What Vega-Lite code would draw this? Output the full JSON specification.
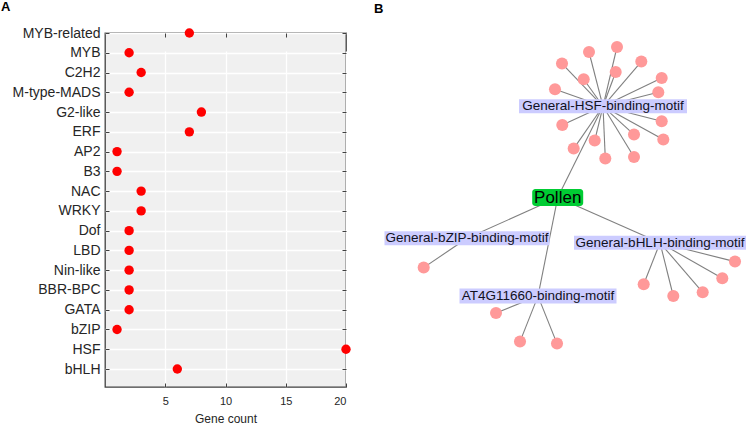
{
  "$schema": "https://vega.github.io/schema/vega-lite/v6.json",
  "padding": {"left": 0, "top": 0, "right": 0, "bottom": 0},
  "config": {"font": "Liberation Sans"},
  "datasets": {
    "tf": [
      {"family": "MYB-related", "count": 7},
      {"family": "MYB", "count": 2},
      {"family": "C2H2", "count": 3},
      {"family": "M-type-MADS", "count": 2},
      {"family": "G2-like", "count": 8},
      {"family": "ERF", "count": 7},
      {"family": "AP2", "count": 1},
      {"family": "B3", "count": 1},
      {"family": "NAC", "count": 3},
      {"family": "WRKY", "count": 3},
      {"family": "Dof", "count": 2},
      {"family": "LBD", "count": 2},
      {"family": "Nin-like", "count": 2},
      {"family": "BBR-BPC", "count": 2},
      {"family": "GATA", "count": 2},
      {"family": "bZIP", "count": 1},
      {"family": "HSF", "count": 20},
      {"family": "bHLH", "count": 6}
    ],
    "nodes": [
      {"id": "Pollen", "kind": "tissue", "label": "Pollen", "x": 556.7, "y": 197.3},
      {"id": "HSF", "kind": "motif", "label": "General-HSF-binding-motif", "x": 602, "y": 106},
      {"id": "bZIP", "kind": "motif", "label": "General-bZIP-binding-motif", "x": 466, "y": 238},
      {"id": "bHLH", "kind": "motif", "label": "General-bHLH-binding-motif", "x": 659, "y": 242.5},
      {"id": "AT4G", "kind": "motif", "label": "AT4G11660-binding-motif", "x": 537, "y": 295.8},
      {"id": "h1", "kind": "gene", "x": 616, "y": 46.7},
      {"id": "h2", "kind": "gene", "x": 588, "y": 51.7},
      {"id": "h3", "kind": "gene", "x": 561, "y": 63.3},
      {"id": "h4", "kind": "gene", "x": 640.3, "y": 61.3},
      {"id": "h5", "kind": "gene", "x": 614.7, "y": 71.7},
      {"id": "h6", "kind": "gene", "x": 582.7, "y": 79},
      {"id": "h7", "kind": "gene", "x": 660.7, "y": 77.7},
      {"id": "h8", "kind": "gene", "x": 554, "y": 89},
      {"id": "h9", "kind": "gene", "x": 657.3, "y": 92},
      {"id": "h10", "kind": "gene", "x": 561.3, "y": 124.7},
      {"id": "h11", "kind": "gene", "x": 660.7, "y": 121},
      {"id": "h12", "kind": "gene", "x": 633, "y": 134.3},
      {"id": "h13", "kind": "gene", "x": 593.7, "y": 140.3},
      {"id": "h14", "kind": "gene", "x": 662.3, "y": 139.3},
      {"id": "h15", "kind": "gene", "x": 572.7, "y": 148.3},
      {"id": "h16", "kind": "gene", "x": 604.3, "y": 158.3},
      {"id": "h17", "kind": "gene", "x": 633, "y": 156.7},
      {"id": "z1", "kind": "gene", "x": 422.7, "y": 267.3},
      {"id": "l1", "kind": "gene", "x": 734, "y": 261.3},
      {"id": "l2", "kind": "gene", "x": 721.3, "y": 278},
      {"id": "l3", "kind": "gene", "x": 701.7, "y": 292},
      {"id": "l4", "kind": "gene", "x": 672.3, "y": 295.7},
      {"id": "l5", "kind": "gene", "x": 642.7, "y": 284},
      {"id": "a1", "kind": "gene", "x": 495, "y": 312.7},
      {"id": "a2", "kind": "gene", "x": 519, "y": 341.3},
      {"id": "a3", "kind": "gene", "x": 556, "y": 343.3}
    ],
    "edges": [
      {"source": "Pollen", "target": "HSF"},
      {"source": "Pollen", "target": "bZIP"},
      {"source": "Pollen", "target": "bHLH"},
      {"source": "Pollen", "target": "AT4G"},
      {"source": "HSF", "target": "h1"},
      {"source": "HSF", "target": "h2"},
      {"source": "HSF", "target": "h3"},
      {"source": "HSF", "target": "h4"},
      {"source": "HSF", "target": "h5"},
      {"source": "HSF", "target": "h6"},
      {"source": "HSF", "target": "h7"},
      {"source": "HSF", "target": "h8"},
      {"source": "HSF", "target": "h9"},
      {"source": "HSF", "target": "h10"},
      {"source": "HSF", "target": "h11"},
      {"source": "HSF", "target": "h12"},
      {"source": "HSF", "target": "h13"},
      {"source": "HSF", "target": "h14"},
      {"source": "HSF", "target": "h15"},
      {"source": "HSF", "target": "h16"},
      {"source": "HSF", "target": "h17"},
      {"source": "bZIP", "target": "z1"},
      {"source": "bHLH", "target": "l1"},
      {"source": "bHLH", "target": "l2"},
      {"source": "bHLH", "target": "l3"},
      {"source": "bHLH", "target": "l4"},
      {"source": "bHLH", "target": "l5"},
      {"source": "AT4G", "target": "a1"},
      {"source": "AT4G", "target": "a2"},
      {"source": "AT4G", "target": "a3"}
    ]
  },
  "hconcat": [
    {
      "width": 241,
      "height": 354,
      "title": {"text": "A", "anchor": "start", "frame": "bounds", "fontSize": 13, "fontWeight": "bold", "offset": 12, "color": "#000000"},
      "view": {"fill": "#f0f0f0", "stroke": "#404040", "strokeWidth": 1.3},
      "data": {"name": "tf"},
      "layer": [
        {
          "mark": {"type": "circle", "size": 88, "color": "#ff0000", "opacity": 1},
          "encoding": {
            "x": {
              "field": "count", "type": "quantitative",
              "scale": {"domain": [0, 20], "nice": false, "zero": false},
              "axis": {
                "values": [5, 10, 15, 20], "title": "Gene count", "titleFontSize": 12, "titleFontWeight": "normal",
                "titleColor": "#262626", "titlePadding": 7, "labelFontSize": 11, "labelColor": "#262626",
                "labelPadding": 12, "tickSize": -4, "tickColor": "#404040", "domain": false,
                "grid": true, "gridColor": "#ffffff", "gridWidth": 1.3
              }
            },
            "y": {
              "field": "family", "type": "nominal", "sort": null,
              "scale": {"type": "point", "range": [0, 336], "padding": 0},
              "axis": {
                "title": null, "labelFontSize": 14, "labelColor": "#262626", "labelPadding": 9,
                "tickSize": -4, "tickColor": "#404040", "domain": false,
                "grid": true, "gridColor": "#ffffff", "gridWidth": 1.3,
                "minExtent": 104, "maxExtent": 104
              }
            }
          }
        },
        {
          "mark": {"type": "circle", "opacity": 0},
          "encoding": {
            "x": {
              "field": "count", "type": "quantitative",
              "axis": {"orient": "top", "values": [5, 10, 15], "labels": false, "title": null, "tickSize": -4, "tickColor": "#404040", "domain": false, "grid": false, "minExtent": 0, "maxExtent": 0}
            },
            "y": {
              "field": "family", "type": "nominal", "sort": null,
              "axis": {"orient": "right", "labels": false, "title": null, "tickSize": -4, "tickColor": "#404040", "domain": false, "grid": false, "minExtent": 0, "maxExtent": 0}
            }
          }
        }
      ],
      "resolve": {"axis": {"x": "independent", "y": "independent"}}
    },
    {
      "width": 377,
      "height": 354,
      "title": {"text": "B", "anchor": "start", "frame": "group", "fontSize": 13, "fontWeight": "bold", "offset": 17, "dx": 3, "color": "#000000"},
      "view": {"stroke": null, "fill": null},
      "layer": [
        {
          "data": {"name": "edges"},
          "transform": [
            {"lookup": "source", "from": {"data": {"name": "nodes"}, "key": "id", "fields": ["x", "y"]}, "as": ["sx", "sy"]},
            {"lookup": "target", "from": {"data": {"name": "nodes"}, "key": "id", "fields": ["x", "y"]}, "as": ["tx", "ty"]}
          ],
          "mark": {"type": "rule", "color": "#808080", "strokeWidth": 1.1},
          "encoding": {
            "x": {"field": "sx", "type": "quantitative", "scale": {"domain": [370, 747], "nice": false, "zero": false}, "axis": null},
            "y": {"field": "sy", "type": "quantitative", "scale": {"domain": [32.7, 386.7], "nice": false, "zero": false, "reverse": true}, "axis": null},
            "x2": {"field": "tx"},
            "y2": {"field": "ty"}
          }
        },
        {
          "data": {"name": "nodes"},
          "transform": [{"filter": "datum.kind == 'gene'"}],
          "mark": {"type": "circle", "size": 145, "color": "#ff9999", "opacity": 1},
          "encoding": {
            "x": {"field": "x", "type": "quantitative"},
            "y": {"field": "y", "type": "quantitative"}
          }
        },
        {
          "data": {"name": "nodes"},
          "transform": [{"filter": "datum.id == 'HSF'"}],
          "mark": {"type": "rect", "color": "#ccccff", "xOffset": -84, "x2Offset": 84, "yOffset": -7, "y2Offset": 7},
          "encoding": {"x": {"field": "x", "type": "quantitative"}, "x2": {"field": "x"}, "y": {"field": "y", "type": "quantitative"}, "y2": {"field": "y"}}
        },
        {
          "data": {"name": "nodes"},
          "transform": [{"filter": "datum.id == 'bZIP'"}],
          "mark": {"type": "rect", "color": "#ccccff", "xOffset": -82.5, "x2Offset": 82.5, "yOffset": -7, "y2Offset": 7},
          "encoding": {"x": {"field": "x", "type": "quantitative"}, "x2": {"field": "x"}, "y": {"field": "y", "type": "quantitative"}, "y2": {"field": "y"}}
        },
        {
          "data": {"name": "nodes"},
          "transform": [{"filter": "datum.id == 'bHLH'"}],
          "mark": {"type": "rect", "color": "#ccccff", "xOffset": -86, "x2Offset": 86, "yOffset": -7, "y2Offset": 7},
          "encoding": {"x": {"field": "x", "type": "quantitative"}, "x2": {"field": "x"}, "y": {"field": "y", "type": "quantitative"}, "y2": {"field": "y"}}
        },
        {
          "data": {"name": "nodes"},
          "transform": [{"filter": "datum.id == 'AT4G'"}],
          "mark": {"type": "rect", "color": "#ccccff", "xOffset": -78.5, "x2Offset": 78.5, "yOffset": -7.5, "y2Offset": 7.5},
          "encoding": {"x": {"field": "x", "type": "quantitative"}, "x2": {"field": "x"}, "y": {"field": "y", "type": "quantitative"}, "y2": {"field": "y"}}
        },
        {
          "data": {"name": "nodes"},
          "transform": [{"filter": "datum.kind == 'motif'"}],
          "mark": {"type": "text", "fontSize": 13.5, "color": "#111122", "align": "center", "baseline": "middle"},
          "encoding": {"x": {"field": "x", "type": "quantitative"}, "y": {"field": "y", "type": "quantitative"}, "text": {"field": "label"}}
        },
        {
          "data": {"name": "nodes"},
          "transform": [{"filter": "datum.kind == 'tissue'"}],
          "mark": {"type": "rect", "color": "#00cc33", "cornerRadius": 3, "xOffset": -25.5, "x2Offset": 25.5, "yOffset": -8.5, "y2Offset": 8.5},
          "encoding": {"x": {"field": "x", "type": "quantitative"}, "x2": {"field": "x"}, "y": {"field": "y", "type": "quantitative"}, "y2": {"field": "y"}}
        },
        {
          "data": {"name": "nodes"},
          "transform": [{"filter": "datum.kind == 'tissue'"}],
          "mark": {"type": "text", "fontSize": 17, "color": "#000000", "align": "center", "baseline": "middle"},
          "encoding": {"x": {"field": "x", "type": "quantitative"}, "y": {"field": "y", "type": "quantitative"}, "text": {"field": "label"}}
        }
      ]
    }
  ],
  "spacing": 25,
  "bounds": "flush"
}
